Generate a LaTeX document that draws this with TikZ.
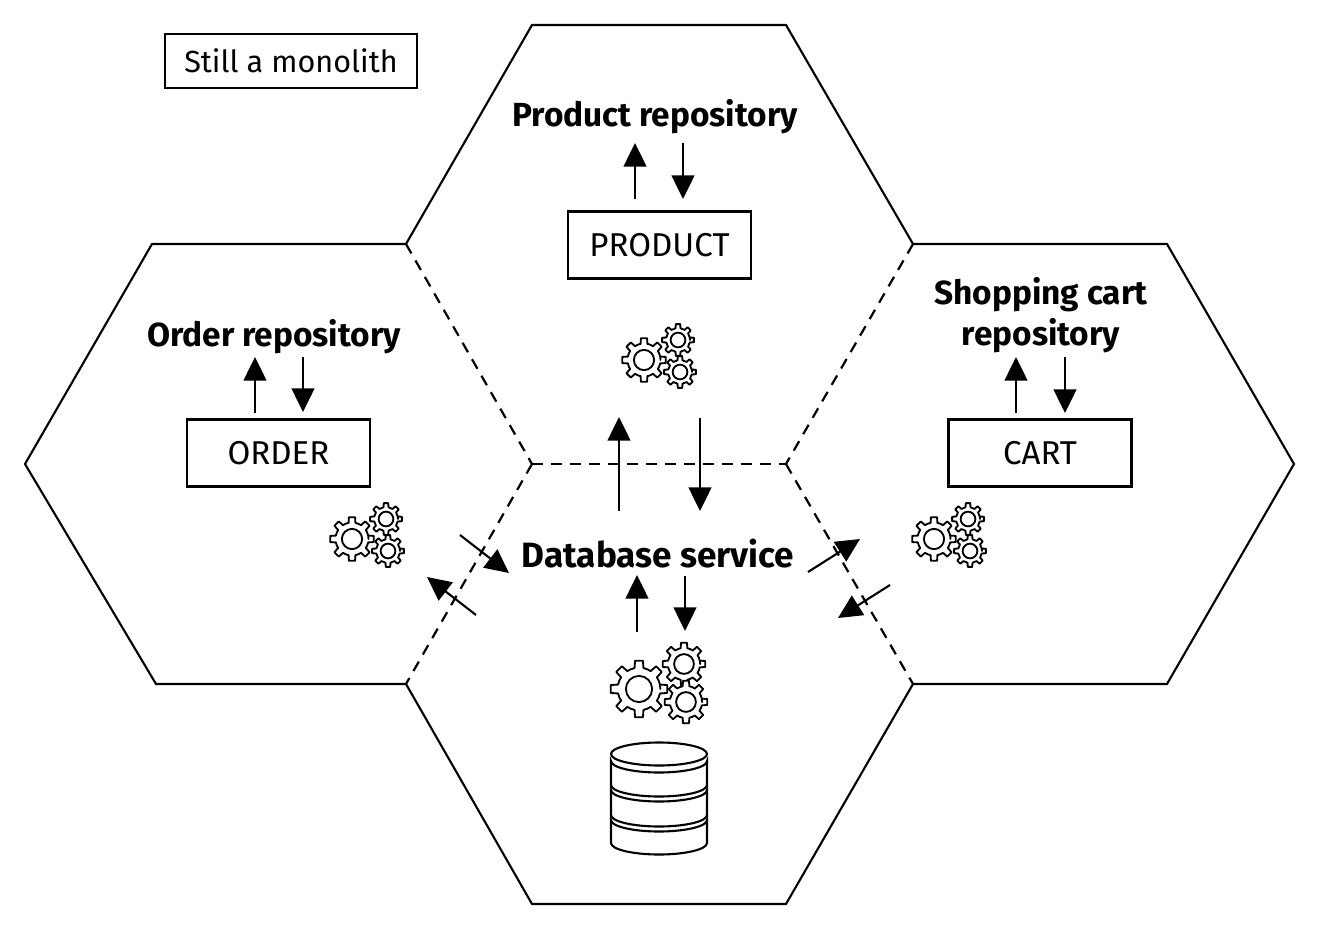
\documentclass[tikz,border=0pt]{standalone}
\usepackage{fontspec}
\setmainfont{Fira Sans}
\usetikzlibrary{arrows.meta}
\tikzset{
    hexline/.style={line width=1.2pt},
    hexdash/.style={line width=1.25pt,dash pattern=on 6.2pt off 4.6pt},
    tablebox/.style={draw,line width=1.2pt,minimum width=3.66cm,minimum height=1.34cm,font=\fontsize{18.8}{20}\selectfont},
    repolabel/.style={align=center,font=\fontsize{19}{23.2}\selectfont\bfseries},
    flow/.style={line width=1.2pt,-{Triangle[length=13.5pt,width=13pt]}},
    pics/gear/.style={code={
        \draw[line width=1.05pt,fill=white,line join=round]
            (0:#1*.75) \foreach \t in {0,45,...,315} {
                -- (\t-12:#1*.75) -- (\t-8:#1) -- (\t+8:#1) -- (\t+12:#1*.75)
                arc[start angle=\t+12,end angle=\t+33,radius=#1*.75]
            } -- cycle;
        \draw[line width=1.05pt] (0,0) circle[radius=#1*.46];
    }},
}
\begin{document}
\begin{tikzpicture}[x=0.02cm,y=-0.02cm]
    \useasboundingbox (0,0) rectangle (1319,929);

    % corners of the four cells
    \coordinate (t1) at (532,25);
    \coordinate (t2) at (786,25);
    \coordinate (j1) at (913,244);
    \coordinate (j2) at (786,464);
    \coordinate (j3) at (532,464);
    \coordinate (j4) at (406,244);
    \coordinate (l1) at (152,244);
    \coordinate (l2) at (25,464);
    \coordinate (l3) at (156,684);
    \coordinate (j5) at (406,684);
    \coordinate (r1) at (1167,244);
    \coordinate (r2) at (1294,464);
    \coordinate (r3) at (1167,684);
    \coordinate (j6) at (913,684);
    \coordinate (b1) at (532,904);
    \coordinate (b2) at (786,904);

    \draw[hexline,line join=miter] (j4) -- (t1) -- (t2) -- (j1);
    \draw[hexline] (j4) -- (l1) -- (l2) -- (l3) -- (j5);
    \draw[hexline] (j1) -- (r1) -- (r2) -- (r3) -- (j6);
    \draw[hexline] (j5) -- (b1) -- (b2) -- (j6);

    \draw[hexdash] (j4) -- (j3);
    \draw[hexdash] (j1) -- (j2);
    \draw[hexdash] (j3) -- (j2);
    \draw[hexdash] (j3) -- (j5);
    \draw[hexdash] (j2) -- (j6);

    \node[draw,line width=1.2pt,minimum width=5.04cm,minimum height=1.08cm,font=\fontsize{17.4}{20}\selectfont] (still) at (291,61) {Still a monolith};

    \node[repolabel] (prodrepo) at (655,116.5) {Product repository};
    \node[repolabel] (orderrepo) at (274,336.5) {Order repository};
    \node[repolabel] (cartrepo) at (1041,315.5) {Shopping cart\\repository};
    \node[repolabel,font=\fontsize{20}{23}\selectfont\bfseries] (dbservice) at (658,554) {Database service};

    \node[tablebox] (prodbox) at (659.5,245) {PRODUCT};
    \node[tablebox] (orderbox) at (278.5,453) {ORDER};
    \node[tablebox] (cartbox) at (1040,453) {CART};

    % arrows, top cell
    \coordinate (pu0) at (635,199);
    \coordinate (pu1) at (635,143);
    \coordinate (pd0) at (683,143);
    \coordinate (pd1) at (683,199);
    \draw[flow] (pu0) -- (pu1);
    \draw[flow] (pd0) -- (pd1);

    % arrows, left cell
    \coordinate (ou0) at (255,413);
    \coordinate (ou1) at (255,357);
    \coordinate (od0) at (303,357);
    \coordinate (od1) at (303,412);
    \draw[flow] (ou0) -- (ou1);
    \draw[flow] (od0) -- (od1);

    % arrows, right cell
    \coordinate (cu0) at (1016,413);
    \coordinate (cu1) at (1016,357);
    \coordinate (cd0) at (1065,357);
    \coordinate (cd1) at (1065,413);
    \draw[flow] (cu0) -- (cu1);
    \draw[flow] (cd0) -- (cd1);

    % arrows, across the borders
    \coordinate (mu0) at (619,511);
    \coordinate (mu1) at (619,417);
    \coordinate (md0) at (700,418);
    \coordinate (md1) at (700,511);
    \draw[flow] (mu0) -- (mu1);
    \draw[flow] (md0) -- (md1);

    \coordinate (dl0) at (460,535);
    \coordinate (dl1) at (509,573);
    \coordinate (dl2) at (476,615);
    \coordinate (dl3) at (427,577);
    \draw[flow] (dl0) -- (dl1);
    \draw[flow] (dl2) -- (dl3);

    \coordinate (dr0) at (808,572);
    \coordinate (dr1) at (860,539);
    \coordinate (dr2) at (890,585);
    \coordinate (dr3) at (838,618);
    \draw[flow] (dr0) -- (dr1);
    \draw[flow] (dr2) -- (dr3);

    \coordinate (su0) at (637,632);
    \coordinate (su1) at (637,575);
    \coordinate (sd0) at (685,576);
    \coordinate (sd1) at (685,631);
    \draw[flow] (su0) -- (su1);
    \draw[flow] (sd0) -- (sd1);

    % gears
    \foreach \gx/\gy in {644/360,352/539,934/539}{
        \pic at (\gx+34,\gy-20) {gear=16};
        \pic at (\gx+36,\gy+12) {gear=16};
        \pic at (\gx,\gy) {gear=22};
    }
    \pic at (684,664) {gear=21.5};
    \pic at (686,702) {gear=21.5};
    \pic at (639,689) {gear=28.5};

    % database
    \foreach \ltop/\lbot in {761/785,790/815,820/843}{
        \draw[line width=1.2pt,fill=white] (611,\ltop) arc[start angle=180,end angle=0,x radius=48,y radius=11.5]
            -- (707,\lbot) arc[start angle=0,end angle=180,x radius=48,y radius=11.5] -- cycle;
    }
    \draw[line width=1.2pt,fill=white] (659,754) ellipse[x radius=48,y radius=11.5];
\end{tikzpicture}
\end{document}
